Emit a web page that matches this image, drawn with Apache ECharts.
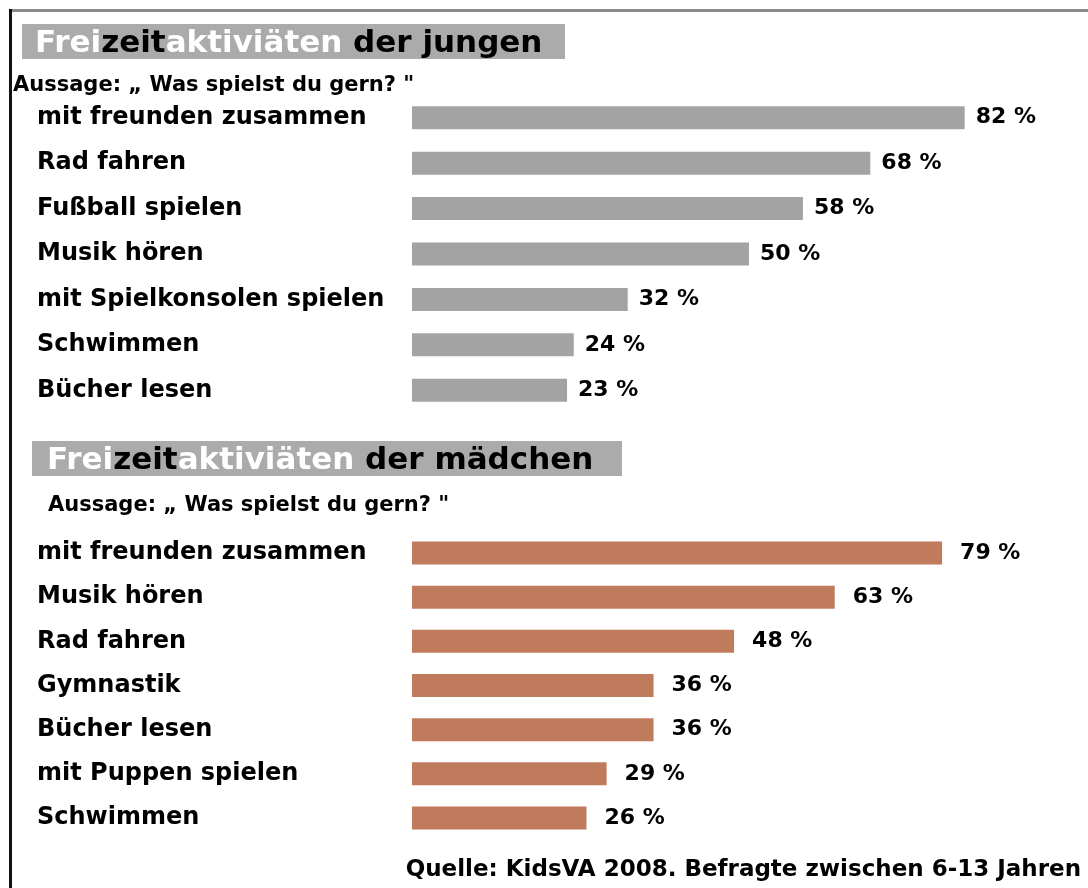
<!DOCTYPE html>
<html>
<head>
<meta charset="utf-8">
<script src="https://cdn.jsdelivr.net/npm/echarts@6/dist/echarts.min.js"></script>
<style>
  html, body { margin: 0; padding: 0; background: #fff; }
  #chart { width: 1088px; height: 888px; }
</style>
</head>
<body>
<div id="chart"></div>
<script>
// Freizeitaktivitäten – Jungen
const boysCategories = ['mit freunden zusammen', 'Rad fahren', 'Fußball spielen', 'Musik hören', 'mit Spielkonsolen spielen', 'Schwimmen', 'Bücher lesen'];
const boysValues = [82, 68, 58, 50, 32, 24, 23];

// Freizeitaktivitäten – Mädchen
const girlsCategories = ['mit freunden zusammen', 'Musik hören', 'Rad fahren', 'Gymnastik', 'Bücher lesen', 'mit Puppen spielen', 'Schwimmen'];
const girlsValues = [79, 63, 48, 36, 36, 29, 26];

const FONT = '"DejaVu Sans", "Liberation Sans", sans-serif';
const boysColor = '#a3a3a3';
const girlsColor = '#c07b5c';

const chart = echarts.init(document.getElementById('chart'), null, { renderer: 'canvas' });

function headline(label) {
  return '{w|Frei}{b|zeit}{w|aktiviäten}{b| der ' + label + '}';
}
const headRich = {
  w: { color: '#ffffff', fontFamily: FONT, fontWeight: 'bold', fontSize: 31 },
  b: { color: '#000000', fontFamily: FONT, fontWeight: 'bold', fontSize: 31 }
};
const subText = 'Aussage: „ Was spielst du gern? "';
const subStyle = { color: '#000', fontFamily: FONT, fontWeight: 'bold', fontSize: 21 };

function yAxisFor(cats, gridIndex, pad) {
  return {
    type: 'category', gridIndex, data: cats, inverse: true,
    axisLine: { show: false }, axisTick: { show: false },
    axisLabel: {
      align: 'left', margin: 375, padding: pad,
      color: '#000', fontFamily: FONT, fontWeight: 'bold', fontSize: 24
    }
  };
}
function xAxisFor(gridIndex) {
  return {
    type: 'value', gridIndex, min: 0, max: 100,
    show: false, splitLine: { show: false }
  };
}
function barSeries(values, idx, color, dist) {
  return {
    type: 'bar', xAxisIndex: idx, yAxisIndex: idx, data: values,
    barWidth: 23, silent: true,
    itemStyle: { color },
    label: {
      show: true, position: 'right', distance: dist, formatter: '{c} %',
      color: '#000', fontFamily: FONT, fontWeight: 'bold', fontSize: 22
    }
  };
}

chart.setOption({
  backgroundColor: '#ffffff',
  animation: false,
  title: [
    { text: headline('jungen'), left: 30, top: 23, textStyle: { rich: headRich } },
    { text: subText, left: 8, top: 70, textStyle: subStyle },
    { text: headline('mädchen'), left: 42, top: 440, textStyle: { rich: headRich } },
    { text: subText, left: 43, top: 490, textStyle: subStyle },
    { text: 'Quelle: KidsVA 2008. Befragte zwischen 6-13 Jahren', right: 2, top: 854,
      textStyle: { color: '#000', fontFamily: FONT, fontWeight: 'bold', fontSize: 23 } }
  ],
  graphic: [
    { type: 'rect', z: -10, shape: { x: 22, y: 24, width: 543, height: 35 }, style: { fill: '#ababab' } },
    { type: 'rect', z: -10, shape: { x: 32, y: 441, width: 590, height: 35 }, style: { fill: '#ababab' } },
    { type: 'rect', z: -10, shape: { x: 10, y: 9, width: 1078, height: 3 }, style: { fill: '#8a8a8a' } },
    { type: 'rect', z: -10, shape: { x: 9, y: 9, width: 3, height: 879 }, style: { fill: '#111111' } }
  ],
  grid: [
    { left: 412, top: 95, width: 674, height: 318 },
    { left: 412, top: 531, width: 671, height: 309 }
  ],
  xAxis: [xAxisFor(0), xAxisFor(1)],
  yAxis: [yAxisFor(boysCategories, 0, [0, 0, 0, 0]), yAxisFor(girlsCategories, 1, [0, 0, 8, 0])],
  series: [
    barSeries(boysValues, 0, boysColor, 11),
    barSeries(girlsValues, 1, girlsColor, 18)
  ]
});
</script>
</body>
</html>
